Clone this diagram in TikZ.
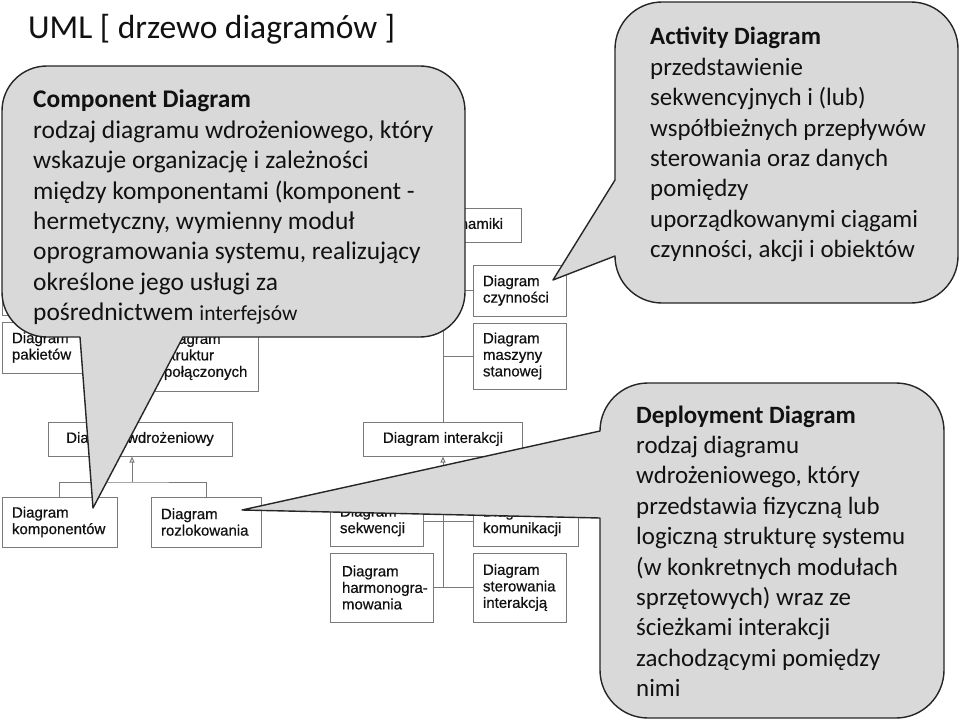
\documentclass[tikz,border=0pt]{standalone}
\usepackage{fontspec}
\setmainfont{Carlito}
\newfontfamily\boxfont[FakeBold=0.6]{Liberation Sans}
\usetikzlibrary{arrows.meta}
\definecolor{callfill}{HTML}{D9D9D9}
\definecolor{callline}{HTML}{262626}
\definecolor{boxline}{HTML}{7A7A7A}
\definecolor{txt}{HTML}{111111}
\begin{document}
\begin{tikzpicture}[x=1pt,y=-1pt,
  umlbox/.style={draw=boxline, line width=1pt, fill=white, inner sep=0pt,
    font=\boxfont\fontsize{15}{16.5}\selectfont, text=txt},
  leftbox/.style={umlbox, align=flush left},
  conn/.style={draw=boxline, line width=1pt},
  gen/.style={conn, -{Triangle[open,length=6pt,width=5pt]}},
  callout/.style={fill=callfill, draw=callline, line width=1.4pt, line join=round},
  calltxt/.style={font=\fontsize{24.9}{30.4}\selectfont, align=flush left, anchor=base west,
    inner sep=0pt, text=txt}
]
\useasboundingbox (0,0) rectangle (960,722);
\fill[white] (0,0) rectangle (960,722);

% ---- boxes ----
\node[umlbox, minimum width=118, minimum height=55] (box0) at (61,287.5) {};
\node[leftbox, minimum width=86, minimum height=51, text width=66] (pak) at (45,347.5) {Diagram\\pakietów};
\node[leftbox, minimum width=104, minimum height=69, text width=84] (str) at (206,356.5) {Diagram\\struktur\\połączonych};
\node[umlbox, minimum width=157, minimum height=34, align=center] (dyn) at (443,225) {Diagram dynamiki};
\node[leftbox, minimum width=93, minimum height=51, text width=73] (czy) at (519.5,290.5) {Diagram\\czynności};
\node[leftbox, minimum width=93, minimum height=66, text width=73] (mas) at (519.5,356) {Diagram\\maszyny\\stanowej};
\node[umlbox, minimum width=159, minimum height=34, align=center] (int) at (443,439) {Diagram interakcji};
\node[leftbox, minimum width=93, minimum height=50, text width=73] (sek) at (376.5,521) {Diagram\\sekwencji};
\node[leftbox, minimum width=105, minimum height=50, text width=85] (kom) at (525.5,521) {Diagram\\komunikacji};
\node[leftbox, minimum width=103, minimum height=69, text width=79] (har) at (381.5,587.5) {Diagram\\\mbox{harmonogra-}\\mowania};
\node[leftbox, minimum width=93, minimum height=69, text width=73] (ste) at (519.5,587.5) {Diagram\\sterowania\\interakcją};
\node[umlbox, minimum width=184, minimum height=34, align=center] (wdr) at (140,439) {Diagram wdrożeniowy};
\node[leftbox, minimum width=115, minimum height=50, text width=95] (kmp) at (59.5,522) {Diagram\\komponentów};
\node[leftbox, minimum width=110, minimum height=50, text width=90] (roz) at (206,522) {Diagram\\rozlokowania};

% ---- connectors ----
\draw[gen] (int.north) -- (dyn.south);
\draw[conn] (czy.west) -- (czy.west -| dyn.south);
\draw[conn] (mas.west) -- (mas.west -| dyn.south);
\draw[gen] (har.east -| int.south) -- (int.south);
\draw[conn] (sek.east) -- (kom.west);
\draw[conn] (har.east) -- (ste.west);
\coordinate (wj) at (132,482);
\draw[gen] (wj) -- (wj |- wdr.south);
\draw[conn] (kmp.north) |- (wj) -| (roz.north);

% ---- callouts ----
\draw[callout] (80,337) -- (47,337) .. controls (22,337) and (2,317) .. (2,292)
  -- (2,111) .. controls (2,86) and (22,66) .. (47,66)
  -- (420,66) .. controls (445,66) and (465,86) .. (465,111)
  -- (465,292) .. controls (465,317) and (445,337) .. (420,337)
  -- (183,337) -- (93,508) -- cycle;
\node[calltxt, text width=460, font=\fontsize{25.4}{30.4}\selectfont] (ctxt) at (33,108) {\textbf{Component Diagram}\\
rodzaj diagramu wdrożeniowego, który\\
wskazuje organizację i zależności\\
między komponentami (komponent -\\
hermetyczny, wymienny moduł\\
oprogramowania systemu, realizujący\\
określone jego usługi za\\
pośrednictwem {\fontsize{21.5}{30.4}\selectfont interfejsów}};

\draw[callout] (615,180) -- (615,49) .. controls (615,23) and (636,2) .. (662,2)
  -- (911,2) .. controls (937,2) and (958,23) .. (958,49)
  -- (958,256) .. controls (958,282) and (937,303) .. (911,303)
  -- (662,303) .. controls (636,303) and (615,282) .. (615,256)
  -- (553,280) -- cycle;
\node[calltxt, text width=300] (atxt) at (650,45) {\textbf{Activity Diagram}\\
przedstawienie\\
sekwencyjnych i (lub)\\
współbieżnych przepływów\\
sterowania oraz danych\\
pomiędzy\\
uporządkowanymi ciągami\\
czynności, akcji i obiektów};

\draw[callout] (600,431) .. controls (600,404.5) and (621.5,383) .. (648,383)
  -- (896,383) .. controls (922.5,383) and (944,404.5) .. (944,431)
  -- (944,670) .. controls (944,696.5) and (922.5,718) .. (896,718)
  -- (648,718) .. controls (621.5,718) and (600,696.5) .. (600,670)
  -- (600,518) -- (242,510) -- cycle;
\node[calltxt, text width=300] (dtxt) at (636,423) {\textbf{Deployment Diagram}\\
rodzaj diagramu\\
wdrożeniowego, który\\
przedstawia fizyczną lub\\
logiczną strukturę systemu\\
(w konkretnych modułach\\
sprzętowych) wraz ze\\
ścieżkami interakcji\\
zachodzącymi pomiędzy\\
nimi};

% ---- title ----
\node[anchor=base west, inner sep=0pt, font=\fontsize{33.5}{40}\selectfont, text=txt] (title) at (28,38.5) {UML [ drzewo diagramów ]};
\end{tikzpicture}
\end{document}
